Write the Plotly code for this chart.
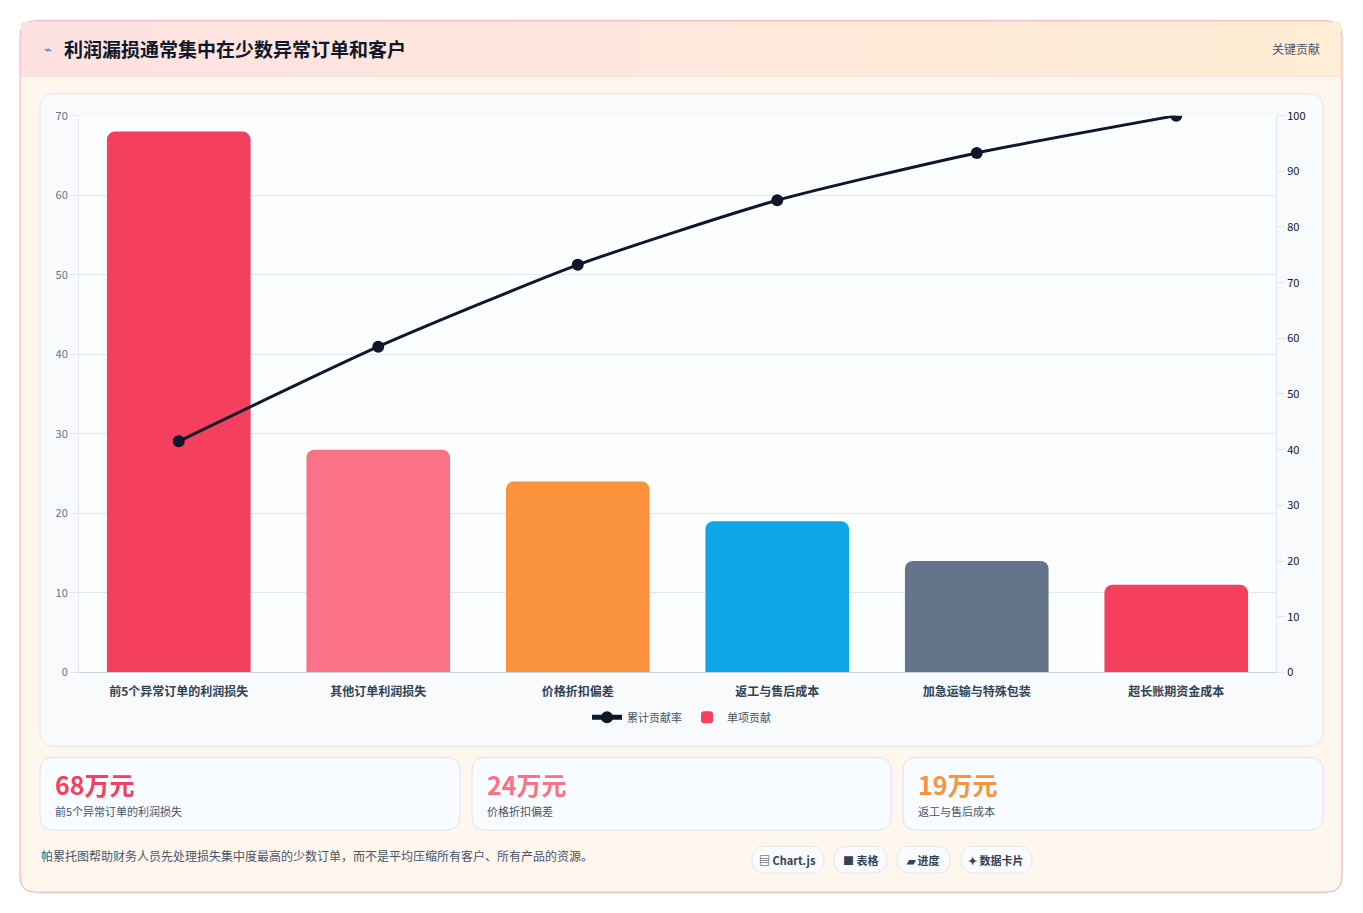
import plotly.graph_objects as go

categories = ["前5个异常订单的利润损失", "其他订单利润损失", "价格折扣偏差", "返工与售后成本", "加急运输与特殊包装", "超长账期资金成本"]
values = [68, 28, 24, 19, 14, 11]
cumulative = [41.5, 58.5, 73.2, 84.8, 93.3, 100]
bar_colors = ["#f43f5e", "#fb7185", "#fb923c", "#0ea5e9", "#64748b", "#f43f5e"]
kpi_values = ["68万元", "24万元", "19万元"]
kpi_labels = ["前5个异常订单的利润损失", "价格折扣偏差", "返工与售后成本"]
kpi_colors = ["#f43f5e", "#fb7185", "#fb923c"]
pills = ["▤ Chart.js", "■ 表格", "▰ 进度", "✦ 数据卡片"]

W, H = 1363, 913
FONT = "Noto Sans CJK SC"

def px(x): return x / W
def py(y):
    y = (y - 8.3) / 0.983
    return 1 - y / H

def rrect(x0, y0, x1, y1, r, fill, line=None, lw=1):
    X0, X1 = px(x0), px(x1); Y0, Y1 = py(y0), py(y1)
    rx, ry = r / W, r / H
    p = (f"M {X0+rx},{Y0} L {X1-rx},{Y0} Q {X1},{Y0} {X1},{Y0-ry} "
         f"L {X1},{Y1+ry} Q {X1},{Y1} {X1-rx},{Y1} L {X0+rx},{Y1} Q {X0},{Y1} {X0},{Y1+ry} "
         f"L {X0},{Y0-ry} Q {X0},{Y0} {X0+rx},{Y0} Z")
    return dict(type="path", xref="paper", yref="paper", path=p, fillcolor=fill,
                line=dict(color=line or "rgba(0,0,0,0)", width=lw if line else 0), layer="below")

shapes = []
shapes.append(rrect(20, 20, 1342, 892, 16, "#fff6ee", "#fda4af", 1))
n = 30
def lerp(a, b, t): return int(a + (b - a) * t)
c0, c1 = (254, 226, 226), (255, 237, 213)
for i in range(n):
    t = i / (n - 1)
    col = f"rgb({lerp(c0[0],c1[0],t)},{lerp(c0[1],c1[1],t)},{lerp(c0[2],c1[2],t)})"
    x0 = 21 + i * (1320 / n); x1 = x0 + 1320 / n + 1
    shapes.append(dict(type="rect", xref="paper", yref="paper", x0=px(x0), x1=px(min(x1, 1341)),
                       y0=py(76), y1=py(21), fillcolor=col, line=dict(width=0), layer="below"))
shapes.append(dict(type="line", xref="paper", yref="paper", x0=px(21), x1=px(1341), y0=py(76), y1=py(76),
                   line=dict(color="#f3e0dc", width=1), layer="below"))
shapes.append(rrect(40, 93, 1323, 746, 14, "#f8fafc", "#e2e8f0", 1))
shapes.append(dict(type="rect", xref="paper", yref="paper", x0=px(79), x1=px(1276), y0=py(672), y1=py(115),
                   fillcolor="#fcfdfe", line=dict(width=0), layer="below"))
kx = [(40, 460), (472, 891), (903, 1323)]
for (a, b) in kx:
    shapes.append(rrect(a, 757, b, 830, 14, "#f8fbff", "#dbe4f0", 1))
pill_x = [(752, 824), (834, 887), (897, 950), (961, 1032)]
for (a, b) in pill_x:
    shapes.append(rrect(a, 846, b, 873, 13, "#f8fafc", "#e2e8f0", 1))

ann = []
def A(text, x, y, xa, size, color):
    ann.append(dict(text=text, x=px(x), y=py(y), xref="paper", yref="paper", xanchor=xa, yanchor="middle",
                    showarrow=False, font=dict(size=size, color=color, family=FONT)))
A("⌁", 42, 48, "left", 13, "#6366f1")
A("<b>利润漏损通常集中在少数异常订单和客户</b>", 62, 48, "left", 19, "#0f172a")
A("关键贡献", 1322, 48, "right", 12, "#475569")
for (a, b), v, l, c in zip(kx, kpi_values, kpi_labels, kpi_colors):
    A(f"<b>{v}</b>", a + 13, 784, "left", 25, c)
    A(l, a + 13, 811, "left", 11, "#475569")
A("帕累托图帮助财务人员先处理损失集中度最高的少数订单，而不是平均压缩所有客户、所有产品的资源。", 39, 855, "left", 12, "#475569")
for (a, b), t in zip(pill_x, pills):
    A(f"<b>{t}</b>", (a + b) / 2, 860, "center", 11, "#334155")

fig = go.Figure()
fig.add_trace(go.Scatter(x=categories, y=cumulative, name="累计贡献率", yaxis="y2", mode="lines+markers",
                         line=dict(color="#0f172a", width=3, shape="spline", smoothing=0.6),
                         marker=dict(size=12, color="#0f172a")))
fig.add_trace(go.Bar(x=categories, y=values, name="单项贡献", marker=dict(color=bar_colors, line=dict(width=0)),
                     width=0.72))

fig.update_layout(
    width=W, height=H, margin=dict(l=0, r=0, t=0, b=0), paper_bgcolor="white", plot_bgcolor="rgba(0,0,0,0)",
    font=dict(family=FONT), barcornerradius=8, shapes=shapes, annotations=ann, showlegend=True,
    xaxis=dict(domain=[px(79), px(1276)], showgrid=False, showline=True, linecolor="#cbd5e1",
               tickfont=dict(size=12, color="#334155", weight=600), anchor="y", ticks="",
               ticklabelstandoff=8),
    yaxis=dict(domain=[py(672), py(115)], range=[0, 70], dtick=10, gridcolor="#e2e8f0", zeroline=False,
               tickfont=dict(size=11, color="#64748b"), ticks="outside", ticklen=8, tickcolor="#e2e8f0",
               showline=True, linecolor="#e2e8f0"),
    yaxis2=dict(overlaying="y", side="right", range=[0, 100], dtick=10, showgrid=False, zeroline=False,
                tickfont=dict(size=11, color="#0f172a"), ticks="outside", ticklen=8, tickcolor="#e2e8f0",
                showline=True, linecolor="#e2e8f0"),
    legend=dict(orientation="h", x=0.5, xanchor="center", y=py(717), yanchor="middle",
                font=dict(size=11, color="#475569"), bgcolor="rgba(0,0,0,0)", itemsizing="constant"),
)
fig.write_html("out.html", config={"displayModeBar": False},
               post_script="document.body.style.margin='0';document.body.style.overflow='hidden';")
